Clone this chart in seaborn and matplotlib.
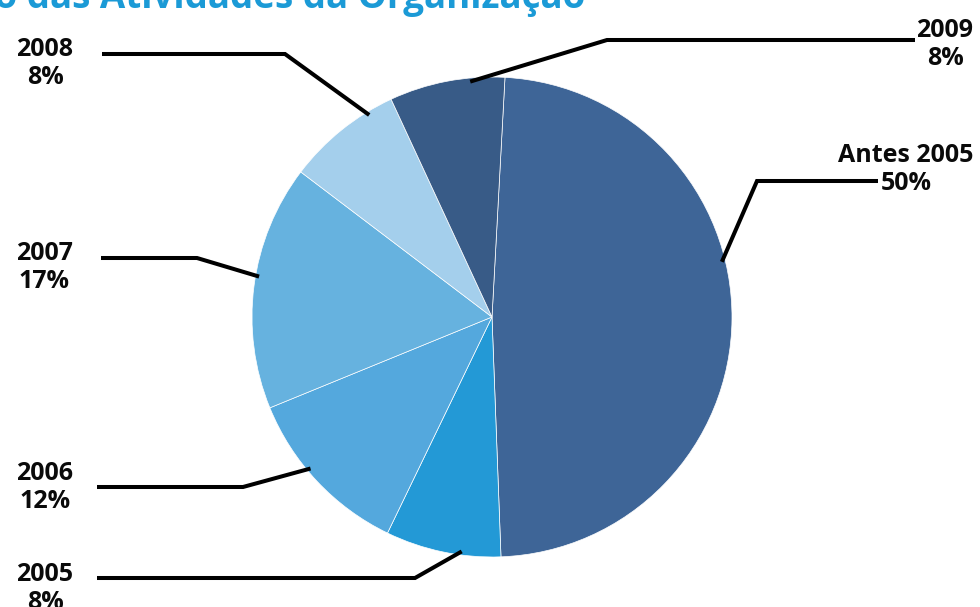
import numpy as np
import matplotlib
matplotlib.use("Agg")
import matplotlib.pyplot as plt
import seaborn as sns

# Data
categories = ["Antes 2005", "2005", "2006", "2007", "2008", "2009"]
shares = [50, 8, 12, 17, 8, 8]
colors = ["#3E6597", "#2399D6", "#54A8DD", "#66B2DF", "#A4CFEC", "#385B87"]
title = "Evolução das Atividades da Organização"

sns.set_theme(style="white")
plt.rcParams["font.family"] = ["Open Sans", "DejaVu Sans"]

W, H = 980, 607
fig = plt.figure(figsize=(W / 100, H / 100), dpi=100)
ax = fig.add_axes([0, 0, 1, 1])


def py(y):
    """Convert a top-down pixel row into the axes' bottom-up y."""
    return H - y


cx, cy, R = 492, 317, 240
start_cw = 3.1  # first wedge edge, degrees clockwise from 12 o'clock

wedges, _ = ax.pie(
    shares,
    colors=colors,
    startangle=90 - start_cw,
    counterclock=False,
    center=(cx, py(cy)),
    radius=R,
    wedgeprops=dict(edgecolor="white", linewidth=0.5),
)
ax.set_xlim(0, W)
ax.set_ylim(0, H)
ax.set_aspect("equal")
ax.axis("off")

# Leader layout: where along each wedge the line starts, the elbow, the tail,
# and the label baseline rows
anchor_frac = [0.42, 0.34, 0.58, 0.54, 0.77, 0.70]
elbows = [(757, 181), (415, 578), (243, 487), (197, 258), (285, 54), (607, 40)]
tails = [(878, 181), (97, 578), (97, 487), (101, 258), (102, 54), (915, 40)]
label_x = [906, 45, 45, 44, 45, 945]
label_base = [162, 581, 480, 260, 56, 37]
line_step = 28

total = float(sum(shares))
cum = np.concatenate([[0], np.cumsum(shares)]) / total * 360 + start_cw
for i, cat in enumerate(categories):
    a = np.radians(cum[i] + anchor_frac[i] * (cum[i + 1] - cum[i]))
    ax_pt = (cx + 0.985 * R * np.sin(a), py(cy - 0.985 * R * np.cos(a)))
    ex, ey = elbows[i]
    tx, ty = tails[i]
    ax.plot([ax_pt[0], ex, tx], [ax_pt[1], py(ey), py(ty)],
            color="black", lw=2.9, solid_joinstyle="miter",
            solid_capstyle="butt", zorder=5)
    ax.text(label_x[i], py(label_base[i]), cat, ha="center", va="baseline",
            fontsize=18, fontweight="bold", color="#0A0A0A")
    ax.text(label_x[i], py(label_base[i] + line_step), f"{shares[i]}%",
            ha="center", va="baseline", fontsize=18, fontweight="bold",
            color="#0A0A0A")

ax.text(585, py(8), title, ha="right", va="baseline", fontsize=26.5,
        fontweight="bold", color="#1B9AD6")

fig.savefig("out.png", dpi=100)
